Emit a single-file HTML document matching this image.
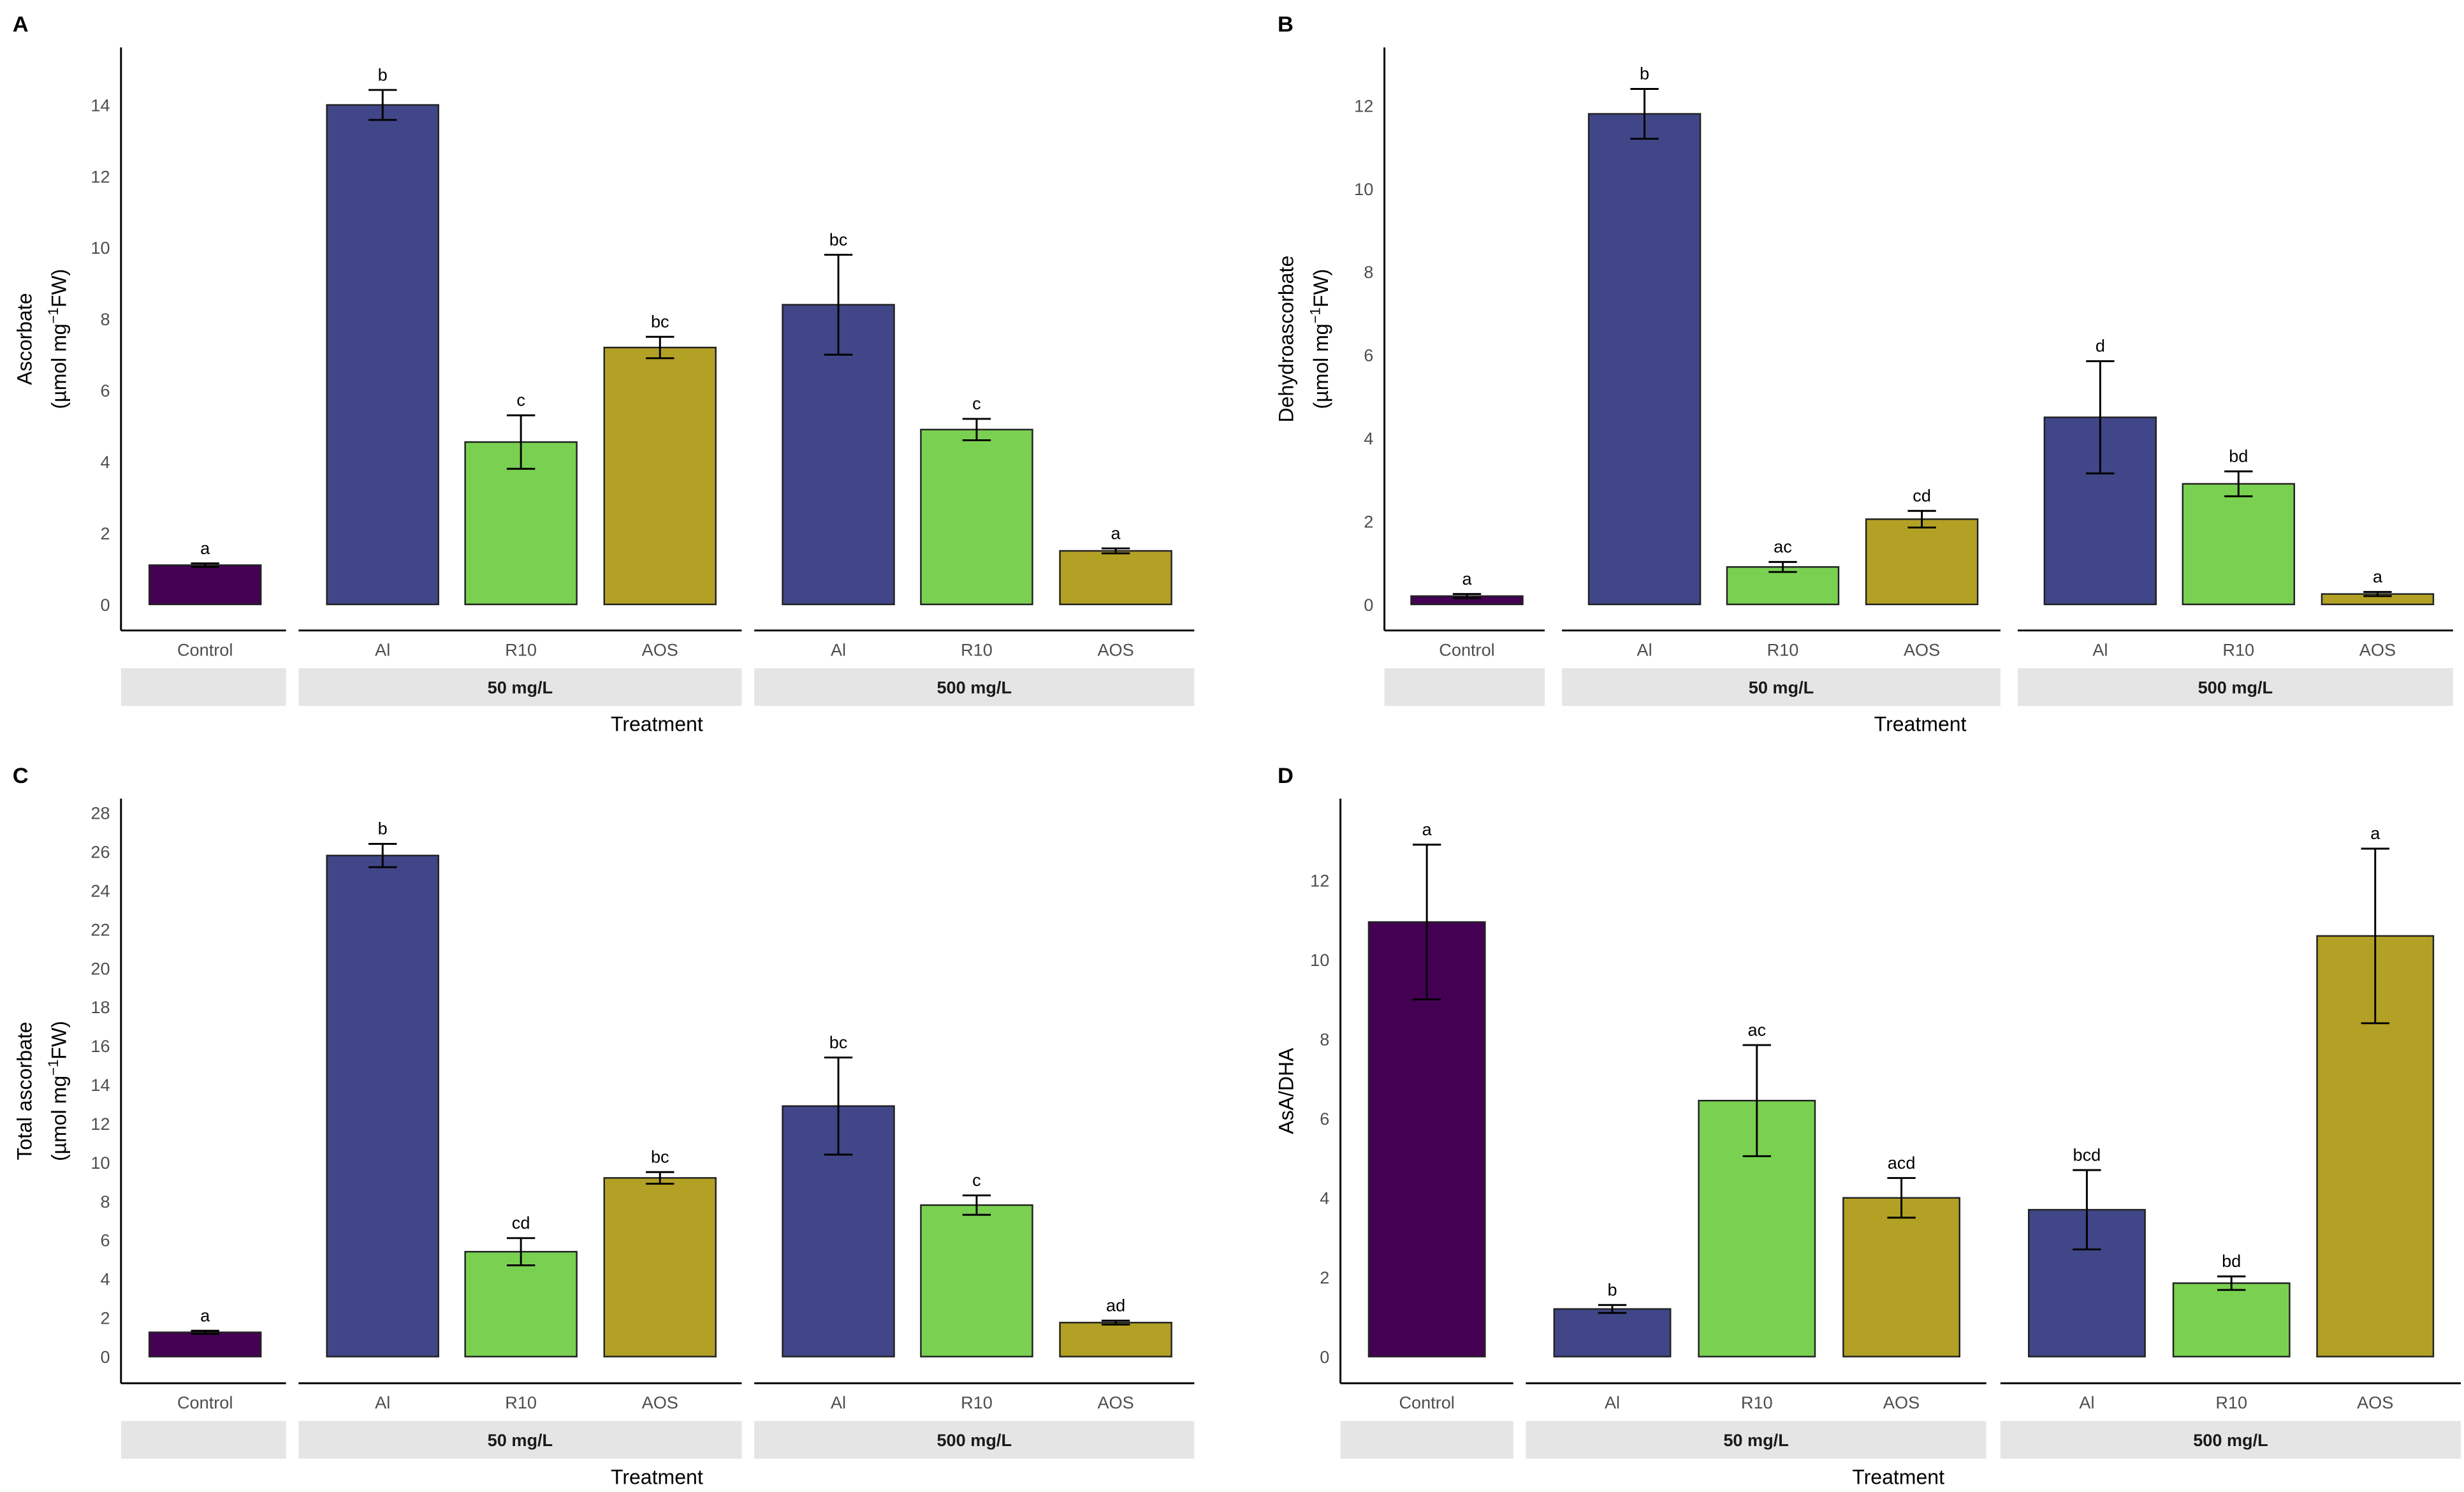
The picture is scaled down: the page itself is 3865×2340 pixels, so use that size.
<!DOCTYPE html>
<html><head><meta charset="utf-8">
<style>
html,body{margin:0;padding:0;background:#fff;}
svg{display:block;font-family:"Liberation Sans",Arial,sans-serif;}
</style></head>
<body>
<svg id="fig" width="3865" height="2340" viewBox="0 0 1568 949" xmlns="http://www.w3.org/2000/svg"></svg>
<script>
const categories = ["Control","Al","R10","AOS","Al","R10","AOS"];
const groups = ["", "50 mg/L", "500 mg/L"];
const colors = ["#440154","#404688","#7AD151","#B3A125","#404688","#7AD151","#B3A125"];

const ascValues = [1.1, 14.0, 4.55, 7.2, 8.4, 4.9, 1.5];
const ascErrors = [0.05, 0.42, 0.75, 0.3, 1.4, 0.3, 0.07];
const ascLetters = ["a","b","c","bc","bc","c","a"];
const ascTicks = [0,2,4,6,8,10,12,14];

const dhaValues = [0.2, 11.8, 0.9, 2.05, 4.5, 2.9, 0.25];
const dhaErrors = [0.05, 0.6, 0.12, 0.2, 1.35, 0.3, 0.05];
const dhaLetters = ["a","b","ac","cd","d","bd","a"];
const dhaTicks = [0,2,4,6,8,10,12];

const totValues = [1.25, 25.8, 5.4, 9.2, 12.9, 7.8, 1.75];
const totErrors = [0.08, 0.6, 0.7, 0.3, 2.5, 0.5, 0.1];
const totLetters = ["a","b","cd","bc","bc","c","ad"];
const totTicks = [0,2,4,6,8,10,12,14,16,18,20,22,24,26,28];

const ratioValues = [10.95, 1.2, 6.45, 4.0, 3.7, 1.85, 10.6];
const ratioErrors = [1.95, 0.1, 1.4, 0.5, 1.0, 0.17, 2.2];
const ratioLetters = ["a","b","ac","acd","bcd","bd","a"];
const ratioTicks = [0,2,4,6,8,10,12];

const NS = "http://www.w3.org/2000/svg";
const svg = document.getElementById("fig");
function mk(tag, attrs, parent, text){
  const e = document.createElementNS(NS, tag);
  for (const k in attrs) e.setAttribute(k, attrs[k]);
  if (text !== undefined) e.textContent = text;
  (parent || svg).appendChild(e);
  return e;
}

function panel(o){
  const g = mk("g", {});
  
  
  const yScale = v => o.y0 - (v / o.unitV) * o.unitPx;
  // panel letter
  const pl = mk("text", {x:o.letterX, y:o.letterY, "font-size":14, "font-weight":"bold", fill:"#000"}, g, o.letter);
  
  
  // y axis
  const ya = mk("line", {x1:o.ax, x2:o.ax, y1:o.axTop, y2:o.axBottom, stroke:"#000", "stroke-width":1.2}, g);
  
  
  o.ticks.forEach(t => {
    const tl = mk("text", {x:o.ax-7, y:yScale(t)+4, "font-size":11, fill:"#4d4d4d", "text-anchor":"end"}, g, String(t));
    
    
  });
  // y title
  const cy = (o.axTop + o.axBottom)/2;
  o.ytitle.forEach((line, i) => {
    const x = o.ytitleX + i*22;
    const t = mk("text", {x:x, y:cy, "font-size":13, fill:"#000", "text-anchor":"middle", transform:`rotate(-90 ${x} ${cy})`}, g);
    
    
    if (line === "UNIT") {
      mk("tspan", {}, t, "(µmol mg");
      mk("tspan", {"font-size":9, dy:-5}, t, "−1");
      mk("tspan", {dy:5}, t, "FW)");
    } else t.textContent = line;
  });
  // x axis segments & strips
  o.segs.forEach((s, i) => {
    const l = mk("line", {x1:s[0], x2:s[1], y1:o.axBottom, y2:o.axBottom, stroke:"#000", "stroke-width":1.2}, g);
    
    
    const r = mk("rect", {x:s[0], y:o.axBottom+24, width:s[1]-s[0], height:24, fill:"#e5e5e5"}, g);
    
    
    if (groups[i]) {
      const st = mk("text", {x:(s[0]+s[1])/2, y:o.axBottom+40, "font-size":11, "font-weight":"bold", fill:"#1a1a1a", "text-anchor":"middle"}, g, groups[i]);
      
      
    }
  });
  const xt = mk("text", {x:o.treatX, y:o.axBottom+64, "font-size":13, fill:"#000", "text-anchor":"middle"}, g, "Treatment");
  
  
  // bars
  categories.forEach((c, i) => {
    const cx = o.centers[i], w = o.bw;
    const v = o.values[i], e = o.errors[i];
    const yv = yScale(v);
    const b = mk("rect", {x:cx-w/2, y:yv, width:w, height:o.y0-yv, fill:colors[i], stroke:"#222", "stroke-width":1}, g);
    
    
    const yt = yScale(v+e), yb = yScale(v-e);
    const eb = mk("path", {d:`M${cx} ${yt}V${yb}M${cx-9} ${yt}H${cx+9}M${cx-9} ${yb}H${cx+9}`, stroke:"#000", "stroke-width":1.2, fill:"none"}, g);
    
    
    const lt = mk("text", {x:cx, y:yt-6, "font-size":11, fill:"#000", "text-anchor":"middle"}, g, o.letters[i]);
    
    
    const cl = mk("text", {x:cx, y:o.axBottom+16, "font-size":11, fill:"#4d4d4d", "text-anchor":"middle"}, g, c);
    
    
  });
}

const cA = [130.5, 243.5, 331.5, 420, 533.5, 621.5, 710];
const segA = [[77,182],[190,472],[480,760]];

panel({name:"panel-a", letter:"A", letterX:8, letterY:20, ax:77, axTop:30, axBottom:401, y0:384.4, unitV:14, unitPx:317.8,
  ticks:ascTicks, values:ascValues, errors:ascErrors, letters:ascLetters,
  centers:cA, bw:71, segs:segA, treatX:418, ytitle:["Ascorbate","UNIT"], ytitleX:20});

panel({name:"panel-b", letter:"B", letterX:813, letterY:20, ax:881, axTop:30, axBottom:401, y0:384.4, unitV:12, unitPx:317.4,
  ticks:dhaTicks, values:dhaValues, errors:dhaErrors, letters:dhaLetters,
  centers:cA.map(c=>c+803), bw:71, segs:segA.map(s=>[s[0]+804,s[1]+801]), treatX:1222, ytitle:["Dehydroascorbate","UNIT"], ytitleX:823});

panel({name:"panel-c", letter:"C", letterX:8, letterY:498, ax:77, axTop:508, axBottom:880, y0:863, unitV:28, unitPx:346,
  ticks:totTicks, values:totValues, errors:totErrors, letters:totLetters,
  centers:cA, bw:71, segs:segA, treatX:418, ytitle:["Total ascorbate","UNIT"], ytitleX:20});

panel({name:"panel-d", letter:"D", letterX:813, letterY:498, ax:853, axTop:508, axBottom:880, y0:863, unitV:12, unitPx:303,
  ticks:ratioTicks, values:ratioValues, errors:ratioErrors, letters:ratioLetters,
  centers:[908, 1026, 1118, 1210, 1328, 1420, 1511.5], bw:74, segs:[[853,963],[971,1264],[1273,1566]], treatX:1208, ytitle:["AsA/DHA"], ytitleX:823});
</script>
</body></html>
